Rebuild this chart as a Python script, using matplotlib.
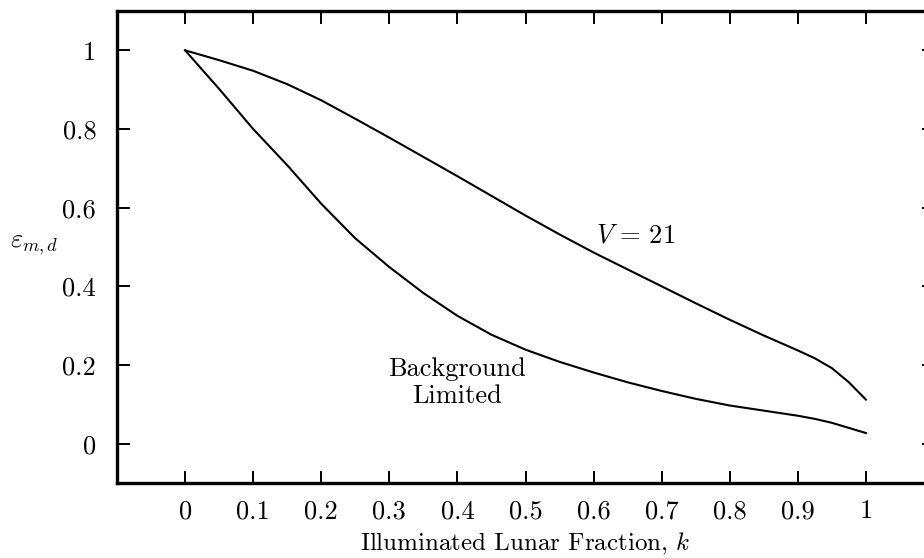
import matplotlib
matplotlib.use("Agg")
import matplotlib.pyplot as plt

plt.rcParams['font.family'] = 'cmr10'
plt.rcParams['mathtext.fontset'] = 'cm'
plt.rcParams['axes.formatter.use_mathtext'] = True
plt.rcParams['axes.unicode_minus'] = False

# illuminated lunar fraction k
k = [0.0, 0.05, 0.1, 0.15, 0.2, 0.25, 0.3, 0.35, 0.4, 0.45, 0.5, 0.55, 0.6,
     0.65, 0.7, 0.75, 0.8, 0.85, 0.9, 0.925, 0.95, 0.975, 1.0]
# V = 21 curve
eps_v21 = [1.0, 0.975, 0.948, 0.914, 0.873, 0.826, 0.778, 0.729, 0.680, 0.630,
           0.580, 0.532, 0.486, 0.443, 0.40, 0.357, 0.315, 0.275, 0.237, 0.217,
           0.192, 0.156, 0.112]
# background limited curve
eps_bg = [1.0, 0.902, 0.80, 0.708, 0.61, 0.522, 0.449, 0.383, 0.325, 0.277,
          0.239, 0.208, 0.181, 0.156, 0.134, 0.114, 0.097, 0.084, 0.071, 0.063,
          0.053, 0.04, 0.027]

xticks = [0, 0.1, 0.2, 0.3, 0.4, 0.5, 0.6, 0.7, 0.8, 0.9, 1]
xticklabels = ['0', '0.1', '0.2', '0.3', '0.4', '0.5', '0.6', '0.7', '0.8', '0.9', '1']
yticks = [0, 0.2, 0.4, 0.6, 0.8, 1]
yticklabels = ['0', '0.2', '0.4', '0.6', '0.8', '1']

fs = 19

fig = plt.figure(figsize=(9.24, 5.58), dpi=100)
ax = fig.add_axes([117 / 924, 75 / 558, 817 / 924, 472 / 558])

ax.plot(k, eps_v21, color='black', lw=1.5)
ax.plot(k, eps_bg, color='black', lw=1.5)

ax.set_xlim(-0.1, 1.1)
ax.set_ylim(-0.1, 1.1)
ax.set_xticks(xticks)
ax.set_xticklabels(xticklabels, fontsize=fs)
ax.set_yticks(yticks)
ax.set_yticklabels(yticklabels, fontsize=fs)
ax.tick_params(direction='in', length=9, width=1.4, top=True, right=True)
ax.tick_params(axis='x', pad=12)
ax.tick_params(axis='y', pad=15)
for s in ax.spines.values():
    s.set_linewidth(2.4)

ax.set_xlabel('Illuminated Lunar Fraction, $k$', fontsize=18, labelpad=5)
fig.text(10 / 924, 1 - 245 / 558, r'$\varepsilon_{m,d}$', fontsize=fs,
         ha='left', va='center')

ax.text(0.603, 0.53, r'$V\,=\,21$', fontsize=fs, ha='left', va='center')
ax.text(0.4, 0.155, 'Background\nLimited', fontsize=19, ha='center',
        va='center', linespacing=1.15)

fig.savefig('out.png', dpi=100)
